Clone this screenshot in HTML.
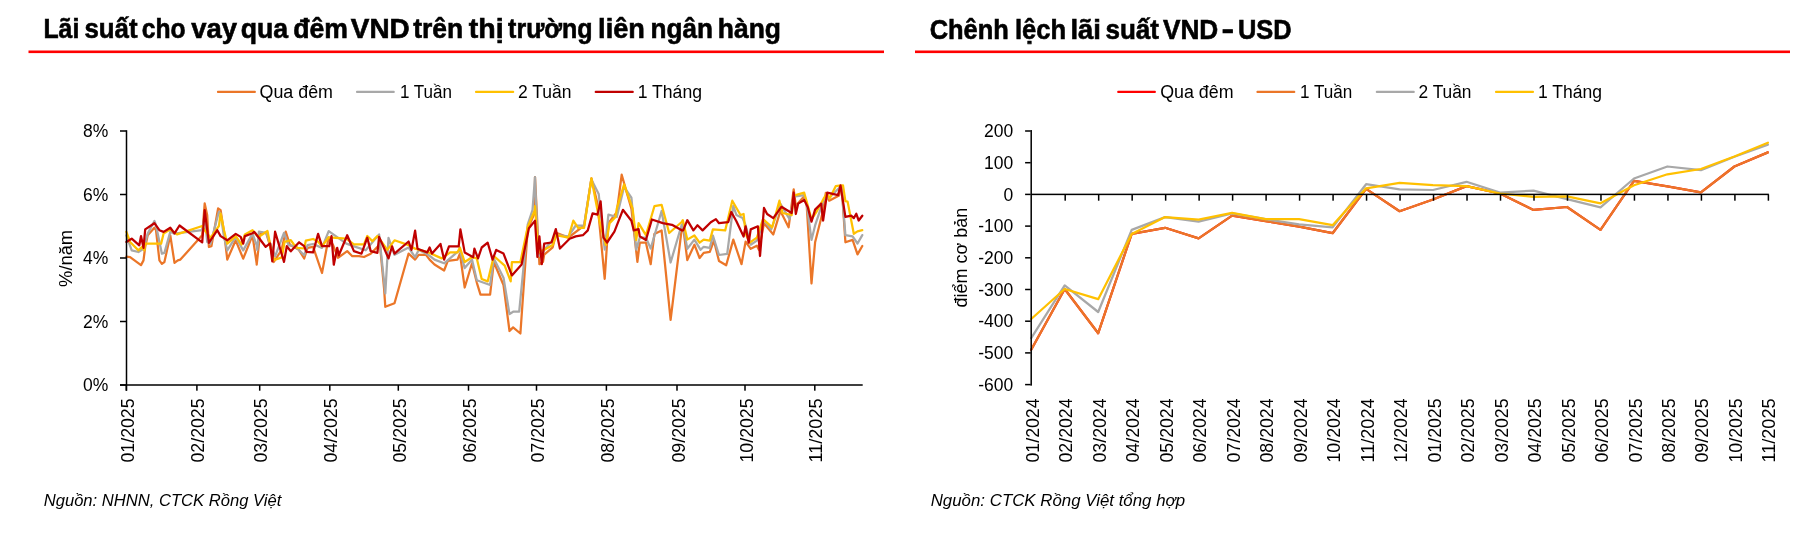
<!DOCTYPE html>
<html><head><meta charset="utf-8"><title>chart</title>
<style>
html,body{margin:0;padding:0;background:#fff;width:1815px;height:537px;overflow:hidden}
body{position:relative}
svg{will-change:transform}
svg text{font-family:"Liberation Sans", sans-serif;fill:#000}
</style></head><body>
<svg width="1815" height="537" viewBox="0 0 1815 537" style="position:absolute;left:0;top:0">
<text x="43.4" y="38.3" font-size="27.0" font-weight="bold" font-style="normal" text-anchor="start" textLength="35.9" lengthAdjust="spacingAndGlyphs" stroke="#000" stroke-width="0.60">Lãi</text>
<text x="84.4" y="38.3" font-size="27.0" font-weight="bold" font-style="normal" text-anchor="start" textLength="53.1" lengthAdjust="spacingAndGlyphs" stroke="#000" stroke-width="0.60">suất</text>
<text x="141.8" y="38.3" font-size="27.0" font-weight="bold" font-style="normal" text-anchor="start" textLength="43.9" lengthAdjust="spacingAndGlyphs" stroke="#000" stroke-width="0.60">cho</text>
<text x="191.2" y="38.3" font-size="27.0" font-weight="bold" font-style="normal" text-anchor="start" textLength="45.8" lengthAdjust="spacingAndGlyphs" stroke="#000" stroke-width="0.60">vay</text>
<text x="240.8" y="38.3" font-size="27.0" font-weight="bold" font-style="normal" text-anchor="start" textLength="47.4" lengthAdjust="spacingAndGlyphs" stroke="#000" stroke-width="0.60">qua</text>
<text x="293.2" y="38.3" font-size="27.0" font-weight="bold" font-style="normal" text-anchor="start" textLength="54.7" lengthAdjust="spacingAndGlyphs" stroke="#000" stroke-width="0.60">đêm</text>
<text x="350.8" y="38.3" font-size="27.0" font-weight="bold" font-style="normal" text-anchor="start" textLength="58.9" lengthAdjust="spacingAndGlyphs" stroke="#000" stroke-width="0.60">VND</text>
<text x="413.2" y="38.3" font-size="27.0" font-weight="bold" font-style="normal" text-anchor="start" textLength="50.0" lengthAdjust="spacingAndGlyphs" stroke="#000" stroke-width="0.60">trên</text>
<text x="468.7" y="38.3" font-size="27.0" font-weight="bold" font-style="normal" text-anchor="start" textLength="34.9" lengthAdjust="spacingAndGlyphs" stroke="#000" stroke-width="0.60">thị</text>
<text x="508.1" y="38.3" font-size="27.0" font-weight="bold" font-style="normal" text-anchor="start" textLength="84.5" lengthAdjust="spacingAndGlyphs" stroke="#000" stroke-width="0.60">trường</text>
<text x="598.1" y="38.3" font-size="27.0" font-weight="bold" font-style="normal" text-anchor="start" textLength="46.8" lengthAdjust="spacingAndGlyphs" stroke="#000" stroke-width="0.60">liên</text>
<text x="650.5" y="38.3" font-size="27.0" font-weight="bold" font-style="normal" text-anchor="start" textLength="62.4" lengthAdjust="spacingAndGlyphs" stroke="#000" stroke-width="0.60">ngân</text>
<text x="717.8" y="38.3" font-size="27.0" font-weight="bold" font-style="normal" text-anchor="start" textLength="63.2" lengthAdjust="spacingAndGlyphs" stroke="#000" stroke-width="0.60">hàng</text>
<text x="929.7" y="38.5" font-size="27.0" font-weight="bold" font-style="normal" text-anchor="start" textLength="79.2" lengthAdjust="spacingAndGlyphs" stroke="#000" stroke-width="0.60">Chênh</text>
<text x="1014.9" y="38.5" font-size="27.0" font-weight="bold" font-style="normal" text-anchor="start" textLength="51.2" lengthAdjust="spacingAndGlyphs" stroke="#000" stroke-width="0.60">lệch</text>
<text x="1070.4" y="38.5" font-size="27.0" font-weight="bold" font-style="normal" text-anchor="start" textLength="30.6" lengthAdjust="spacingAndGlyphs" stroke="#000" stroke-width="0.60">lãi</text>
<text x="1105.5" y="38.5" font-size="27.0" font-weight="bold" font-style="normal" text-anchor="start" textLength="53.5" lengthAdjust="spacingAndGlyphs" stroke="#000" stroke-width="0.60">suất</text>
<text x="1162.9" y="38.5" font-size="27.0" font-weight="bold" font-style="normal" text-anchor="start" textLength="55.4" lengthAdjust="spacingAndGlyphs" stroke="#000" stroke-width="0.60">VND</text>
<text x="1221.5" y="38.5" font-size="27.0" font-weight="bold" font-style="normal" text-anchor="start" textLength="12.5" lengthAdjust="spacingAndGlyphs" stroke="#000" stroke-width="0.60">-</text>
<text x="1237.9" y="38.5" font-size="27.0" font-weight="bold" font-style="normal" text-anchor="start" textLength="53.7" lengthAdjust="spacingAndGlyphs" stroke="#000" stroke-width="0.60">USD</text>
<rect x="28.5" y="50.5" width="855.5" height="2.6" fill="#FF0000"/>
<rect x="915" y="50.5" width="875" height="2.6" fill="#FF0000"/>
<line x1="217.9" y1="91.9" x2="254.9" y2="91.9" stroke="#EB7628" stroke-width="2.1" stroke-linecap="round"/>
<text x="259.5" y="97.9" font-size="18.0" font-weight="normal" font-style="normal" text-anchor="start" textLength="73.5" lengthAdjust="spacingAndGlyphs">Qua đêm</text>
<line x1="357.0" y1="91.9" x2="393.8" y2="91.9" stroke="#A8A8A8" stroke-width="2.1" stroke-linecap="round"/>
<text x="399.9" y="97.9" font-size="18.0" font-weight="normal" font-style="normal" text-anchor="start" textLength="52.1" lengthAdjust="spacingAndGlyphs">1 Tuần</text>
<line x1="476.0" y1="91.9" x2="513.2" y2="91.9" stroke="#FFC000" stroke-width="2.1" stroke-linecap="round"/>
<text x="518.0" y="97.9" font-size="18.0" font-weight="normal" font-style="normal" text-anchor="start" textLength="53.5" lengthAdjust="spacingAndGlyphs">2 Tuần</text>
<line x1="595.7" y1="91.9" x2="632.8" y2="91.9" stroke="#C00000" stroke-width="2.1" stroke-linecap="round"/>
<text x="637.7" y="97.9" font-size="18.0" font-weight="normal" font-style="normal" text-anchor="start" textLength="64.3" lengthAdjust="spacingAndGlyphs">1 Tháng</text>
<line x1="1118.2" y1="91.9" x2="1154.9" y2="91.9" stroke="#FF0000" stroke-width="2.1" stroke-linecap="round"/>
<text x="1160.2" y="97.9" font-size="18.0" font-weight="normal" font-style="normal" text-anchor="start" textLength="73.3" lengthAdjust="spacingAndGlyphs">Qua đêm</text>
<line x1="1257.4" y1="91.9" x2="1294.3" y2="91.9" stroke="#EB7628" stroke-width="2.1" stroke-linecap="round"/>
<text x="1300.0" y="97.9" font-size="18.0" font-weight="normal" font-style="normal" text-anchor="start" textLength="52.3" lengthAdjust="spacingAndGlyphs">1 Tuần</text>
<line x1="1376.8" y1="91.9" x2="1413.8" y2="91.9" stroke="#A8A8A8" stroke-width="2.1" stroke-linecap="round"/>
<text x="1418.5" y="97.9" font-size="18.0" font-weight="normal" font-style="normal" text-anchor="start" textLength="53.0" lengthAdjust="spacingAndGlyphs">2 Tuần</text>
<line x1="1496.0" y1="91.9" x2="1533.0" y2="91.9" stroke="#FFC000" stroke-width="2.1" stroke-linecap="round"/>
<text x="1538.0" y="97.9" font-size="18.0" font-weight="normal" font-style="normal" text-anchor="start" textLength="64.0" lengthAdjust="spacingAndGlyphs">1 Tháng</text>
<polyline points="126.4,256.7 130.1,257.1 141.0,265.1 143.5,260.4 145.2,247.0 147.7,235.3 154.4,227.7 156.0,230.2 159.4,260.4 161.9,263.8 164.4,262.1 170.3,235.3 174.5,262.9 177.8,260.4 180.4,259.6 202.2,235.3 204.7,203.4 207.2,215.2 208.9,247.0 211.4,246.2 218.1,208.4 220.6,210.1 224.0,231.9 227.3,259.6 235.7,240.3 243.2,258.7 252.5,235.3 256.7,263.8 256.7,264.7 260.0,234.0 266.0,232.5 269.5,244.0 273.8,262.0 281.5,250.0 285.7,231.7 290.0,245.0 298.6,249.5 304.2,258.5 307.5,247.9 313.1,246.8 322.0,273.0 328.7,237.3 333.0,245.0 338.0,257.8 347.2,251.1 352.3,256.2 359.0,256.2 364.0,257.0 370.7,253.7 379.9,244.4 384.1,288.9 385.3,306.8 394.5,303.2 408.6,253.6 415.1,259.6 418.7,254.8 426.0,254.8 429.6,259.6 434.5,264.5 444.1,270.5 447.8,260.8 457.5,259.6 459.9,253.6 464.7,287.5 472.0,263.3 476.8,282.6 480.5,294.7 490.1,294.7 493.8,262.0 503.5,285.0 509.5,331.0 513.1,327.4 520.4,333.5 527.7,229.4 534.9,212.4 535.0,177.1 539.4,264.2 543.0,261.8 544.2,254.6 552.7,247.3 556.3,232.8 568.4,237.6 584.1,225.5 591.4,178.3 597.5,203.7 604.7,278.8 608.4,223.1 616.8,212.2 621.7,174.7 626.5,191.6 631.4,208.6 637.4,261.8 639.8,242.5 645.9,242.5 650.7,264.2 654.4,234.0 661.6,230.4 670.6,319.9 681.7,229.0 682.8,224.2 687.3,260.1 694.4,244.7 699.6,258.0 703.7,252.9 709.8,251.9 713.9,240.6 719.0,261.1 726.2,265.2 733.3,239.6 741.5,264.2 745.6,241.6 750.7,248.8 756.9,245.7 758.9,249.8 764.0,223.2 773.3,234.5 780.4,210.9 788.6,227.3 793.7,189.4 795.8,205.8 804.2,196.3 806.6,203.6 811.5,283.5 815.1,242.3 823.6,208.4 825.8,192.9 829.2,200.7 839.1,195.6 840.8,186.2 841.7,186.6 845.4,242.3 852.6,239.9 857.5,254.4 862.3,246.0" fill="none" stroke="#EB7628" stroke-width="2.25" stroke-linejoin="round" stroke-linecap="round"/>
<polyline points="126.4,235.3 131.7,250.4 138.4,252.0 143.5,248.7 147.7,233.6 154.4,221.0 156.0,225.2 161.9,253.7 164.4,252.9 170.3,231.9 174.5,233.6 202.2,230.2 204.7,215.2 207.2,242.0 210.5,243.7 218.9,211.8 220.6,213.5 224.0,236.9 227.3,250.4 235.7,236.9 243.2,250.4 252.5,233.6 256.7,245.3 257.3,250.0 258.9,231.7 266.2,232.8 275.1,256.3 284.0,232.8 288.5,245.1 295.2,246.2 304.2,255.2 307.5,245.1 313.1,244.0 322.0,247.9 328.7,231.1 346.4,243.6 355.6,246.9 365.7,250.3 379.1,234.4 385.3,293.5 388.5,237.8 394.5,254.8 408.6,247.5 415.1,257.2 418.7,249.9 428.4,254.8 434.5,259.6 444.1,263.3 459.9,249.9 464.7,268.1 472.0,259.6 476.8,280.2 490.1,285.0 493.8,258.4 503.5,277.8 509.5,314.1 513.1,311.7 519.2,311.7 527.7,224.5 532.5,210.0 535.0,177.1 538.2,254.6 541.8,257.0 544.2,249.7 552.7,240.0 556.3,235.2 568.4,236.4 575.7,225.5 584.1,225.5 591.4,179.5 598.7,194.0 604.7,249.7 608.4,214.6 616.8,217.0 624.1,186.8 631.4,197.7 636.2,249.7 639.8,237.6 645.9,237.6 650.7,248.5 661.6,211.0 670.6,262.5 681.7,224.8 682.8,224.2 687.3,248.8 694.4,239.6 700.6,249.8 703.7,246.8 709.8,247.8 712.9,235.5 719.0,255.0 727.2,253.9 733.3,205.8 736.4,215.0 742.6,218.1 745.6,225.3 750.7,244.7 756.9,240.6 764.0,220.2 771.2,229.4 780.4,203.8 789.6,219.1 793.7,196.6 804.2,195.1 806.6,203.6 811.5,239.9 815.1,225.4 823.6,200.0 830.8,196.3 839.3,187.8 841.7,187.8 845.4,235.1 852.6,236.3 857.5,243.5 862.3,235.1" fill="none" stroke="#A8A8A8" stroke-width="2.25" stroke-linejoin="round" stroke-linecap="round"/>
<polyline points="126.4,231.9 130.1,242.0 138.4,250.4 141.8,247.0 144.3,250.4 145.2,243.7 161.1,243.7 163.6,233.6 170.3,229.4 177.0,234.4 202.2,226.0 204.7,230.2 210.5,237.8 218.9,226.0 220.6,213.5 224.0,230.2 227.3,243.7 235.7,236.1 241.6,244.5 244.9,234.4 252.5,230.2 257.5,236.0 260.0,236.0 267.5,231.0 272.0,254.0 274.5,260.0 281.8,257.4 284.6,241.8 290.8,240.1 293.5,244.0 297.5,247.9 304.2,248.5 305.8,240.6 313.1,239.0 317.6,241.2 322.0,246.2 328.7,237.3 346.4,238.6 353.9,244.4 364.0,244.4 367.3,236.0 372.4,241.1 377.4,236.0 382.4,242.8 387.3,249.9 394.5,240.3 408.6,245.1 415.1,248.7 428.4,252.4 441.7,258.4 450.2,252.4 457.5,252.4 459.9,247.5 464.7,262.0 472.0,257.2 476.8,258.4 481.7,279.0 487.7,281.4 493.8,256.0 504.7,265.7 510.7,281.4 511.9,262.0 520.4,262.0 527.7,226.9 534.9,210.0 535.0,206.2 538.2,252.1 544.2,249.7 552.7,244.9 556.3,235.2 568.4,237.6 573.3,220.7 578.1,227.9 584.1,227.9 591.4,178.3 599.9,223.1 605.9,244.9 609.6,223.1 615.6,217.0 616.8,208.6 624.1,184.4 632.6,208.6 636.2,240.0 638.6,223.1 645.9,235.2 654.4,206.2 661.6,204.9 669.2,233.0 681.7,222.0 682.8,220.2 687.3,239.6 694.4,235.5 699.6,242.7 703.7,239.6 709.8,240.6 712.9,229.4 725.2,230.4 732.3,200.7 740.5,215.0 743.6,214.0 745.6,233.5 749.7,242.7 756.9,237.6 763.0,219.1 772.2,227.3 779.4,200.7 782.5,213.0 791.7,215.0 793.7,195.6 804.2,192.7 806.6,201.2 811.5,219.3 816.3,212.1 823.6,198.7 827.0,193.4 829.6,198.5 835.7,186.2 839.3,185.7 843.0,185.4 845.4,201.2 847.6,201.6 853.8,233.8 857.5,231.4 862.3,230.2" fill="none" stroke="#FFC000" stroke-width="2.25" stroke-linejoin="round" stroke-linecap="round"/>
<polyline points="126.4,242.0 131.7,238.6 139.3,245.3 141.0,236.1 143.5,247.8 145.2,229.4 154.4,223.2 159.4,230.2 163.6,231.9 170.3,227.7 174.5,233.3 179.5,225.5 202.2,242.3 204.7,210.1 208.9,242.8 217.3,230.2 220.6,236.1 227.3,240.3 235.7,233.9 240.7,236.9 243.2,243.7 244.9,236.1 252.5,233.3 254.1,231.9 255.0,232.8 265.6,246.8 270.1,243.4 272.3,261.3 275.1,231.7 284.0,261.9 286.8,246.2 290.8,251.3 299.1,242.3 304.2,246.2 306.4,251.8 313.1,252.4 318.1,233.9 322.0,246.2 329.3,246.2 331.5,236.2 333.8,264.7 337.2,247.8 338.8,255.3 347.2,235.2 353.9,251.1 361.5,253.7 367.3,237.7 370.7,251.1 377.4,252.8 379.1,236.9 388.5,258.4 392.1,246.3 394.5,253.6 408.6,241.5 411.5,249.9 415.1,230.6 417.5,248.7 427.2,252.4 429.6,247.5 432.0,253.6 440.5,243.9 444.1,259.6 449.0,246.3 458.7,246.3 460.4,229.4 464.7,252.4 473.2,257.2 474.4,248.7 478.0,258.4 481.7,247.5 487.7,242.7 492.6,259.6 496.2,249.9 503.5,253.6 511.9,275.4 521.6,264.5 528.9,228.2 534.9,220.9 535.0,220.7 537.4,257.0 539.4,236.4 541.8,264.2 544.2,243.7 551.5,242.5 555.8,229.1 559.9,248.5 569.6,238.8 575.7,236.4 582.9,235.2 587.8,230.4 592.6,213.4 597.5,214.6 600.6,201.3 603.5,237.6 607.1,242.5 614.4,231.6 622.9,209.8 631.4,220.7 633.8,230.4 638.6,229.1 639.8,236.4 645.9,240.0 651.9,219.5 662.8,223.1 672.0,224.8 681.7,230.3 683.2,230.4 687.3,220.2 693.4,230.4 697.5,225.3 702.6,230.4 710.8,222.2 715.9,219.1 719.0,223.2 728.2,222.2 731.3,212.0 736.4,221.2 743.6,236.5 745.6,226.3 748.7,242.7 750.7,229.4 757.9,226.3 760.0,256.0 764.0,207.9 767.1,214.0 773.3,218.1 781.4,206.8 791.7,213.0 793.7,192.5 795.8,214.0 798.2,203.6 804.2,200.0 807.8,207.2 811.5,221.7 815.1,209.6 821.2,203.6 823.1,220.5 827.2,192.7 838.1,195.1 840.5,185.4 845.4,216.9 851.4,215.7 853.8,218.1 856.3,213.8 858.7,220.5 862.3,215.7" fill="none" stroke="#C00000" stroke-width="2.25" stroke-linejoin="round" stroke-linecap="round"/>
<rect x="125.75" y="130.25" width="1.5" height="260.5" fill="#000"/>
<rect x="120" y="384.25" width="742.7" height="1.5" fill="#000"/>
<rect x="120" y="384.25" width="6.5" height="1.5" fill="#000"/>
<text x="108.3" y="391.2" font-size="17.5" font-weight="normal" font-style="normal" text-anchor="end">0%</text>
<rect x="120" y="320.75" width="6.5" height="1.5" fill="#000"/>
<text x="108.3" y="327.7" font-size="17.5" font-weight="normal" font-style="normal" text-anchor="end">2%</text>
<rect x="120" y="257.25" width="6.5" height="1.5" fill="#000"/>
<text x="108.3" y="264.2" font-size="17.5" font-weight="normal" font-style="normal" text-anchor="end">4%</text>
<rect x="120" y="193.75" width="6.5" height="1.5" fill="#000"/>
<text x="108.3" y="200.7" font-size="17.5" font-weight="normal" font-style="normal" text-anchor="end">6%</text>
<rect x="120" y="130.25" width="6.5" height="1.5" fill="#000"/>
<text x="108.3" y="137.2" font-size="17.5" font-weight="normal" font-style="normal" text-anchor="end">8%</text>
<rect x="125.55" y="385" width="1.5" height="5.7" fill="#000"/>
<text x="0.0" y="0.0" font-size="17.5" font-weight="normal" font-style="normal" text-anchor="end" textLength="64.0" lengthAdjust="spacingAndGlyphs" transform="translate(133.8,398.5) rotate(-90)">01/2025</text>
<rect x="196.15" y="385" width="1.5" height="5.7" fill="#000"/>
<text x="0.0" y="0.0" font-size="17.5" font-weight="normal" font-style="normal" text-anchor="end" textLength="64.0" lengthAdjust="spacingAndGlyphs" transform="translate(204.4,398.5) rotate(-90)">02/2025</text>
<rect x="258.95" y="385" width="1.5" height="5.7" fill="#000"/>
<text x="0.0" y="0.0" font-size="17.5" font-weight="normal" font-style="normal" text-anchor="end" textLength="64.0" lengthAdjust="spacingAndGlyphs" transform="translate(267.2,398.5) rotate(-90)">03/2025</text>
<rect x="329.05" y="385" width="1.5" height="5.7" fill="#000"/>
<text x="0.0" y="0.0" font-size="17.5" font-weight="normal" font-style="normal" text-anchor="end" textLength="64.0" lengthAdjust="spacingAndGlyphs" transform="translate(337.3,398.5) rotate(-90)">04/2025</text>
<rect x="397.55" y="385" width="1.5" height="5.7" fill="#000"/>
<text x="0.0" y="0.0" font-size="17.5" font-weight="normal" font-style="normal" text-anchor="end" textLength="64.0" lengthAdjust="spacingAndGlyphs" transform="translate(405.8,398.5) rotate(-90)">05/2025</text>
<rect x="467.75" y="385" width="1.5" height="5.7" fill="#000"/>
<text x="0.0" y="0.0" font-size="17.5" font-weight="normal" font-style="normal" text-anchor="end" textLength="64.0" lengthAdjust="spacingAndGlyphs" transform="translate(476.0,398.5) rotate(-90)">06/2025</text>
<rect x="535.75" y="385" width="1.5" height="5.7" fill="#000"/>
<text x="0.0" y="0.0" font-size="17.5" font-weight="normal" font-style="normal" text-anchor="end" textLength="64.0" lengthAdjust="spacingAndGlyphs" transform="translate(544.0,398.5) rotate(-90)">07/2025</text>
<rect x="605.65" y="385" width="1.5" height="5.7" fill="#000"/>
<text x="0.0" y="0.0" font-size="17.5" font-weight="normal" font-style="normal" text-anchor="end" textLength="64.0" lengthAdjust="spacingAndGlyphs" transform="translate(613.9,398.5) rotate(-90)">08/2025</text>
<rect x="676.25" y="385" width="1.5" height="5.7" fill="#000"/>
<text x="0.0" y="0.0" font-size="17.5" font-weight="normal" font-style="normal" text-anchor="end" textLength="64.0" lengthAdjust="spacingAndGlyphs" transform="translate(684.5,398.5) rotate(-90)">09/2025</text>
<rect x="744.25" y="385" width="1.5" height="5.7" fill="#000"/>
<text x="0.0" y="0.0" font-size="17.5" font-weight="normal" font-style="normal" text-anchor="end" textLength="64.0" lengthAdjust="spacingAndGlyphs" transform="translate(752.5,398.5) rotate(-90)">10/2025</text>
<rect x="814.05" y="385" width="1.5" height="5.7" fill="#000"/>
<text x="0.0" y="0.0" font-size="17.5" font-weight="normal" font-style="normal" text-anchor="end" textLength="64.0" lengthAdjust="spacingAndGlyphs" transform="translate(822.3,398.5) rotate(-90)">11/2025</text>
<text x="0.0" y="0.0" font-size="18.0" font-weight="normal" font-style="normal" text-anchor="middle" textLength="57.0" lengthAdjust="spacingAndGlyphs" transform="translate(71.5,258.4) rotate(-90)">%/năm</text>
<polyline points="1031.2,349.8 1064.7,289.0 1098.2,333.2 1131.7,233.8 1165.1,227.8 1198.6,238.4 1232.1,215.6 1265.6,221.1 1299.1,226.7 1332.6,233.2 1366.1,188.9 1399.6,211.2 1433.0,199.5 1466.5,186.1 1500.0,193.5 1533.5,209.9 1567.0,207.0 1600.5,229.9 1634.0,180.8 1667.4,186.3 1700.9,192.3 1734.4,166.5 1767.9,152.4" fill="none" stroke="#FF0000" stroke-width="2.25" stroke-linejoin="round" stroke-linecap="round"/>
<polyline points="1031.2,349.8 1064.7,289.0 1098.2,333.2 1131.7,233.8 1165.1,227.8 1198.6,238.4 1232.1,215.6 1265.6,221.1 1299.1,226.7 1332.6,233.2 1366.1,188.9 1399.6,211.2 1433.0,199.5 1466.5,186.1 1500.0,193.5 1533.5,209.9 1567.0,207.0 1600.5,229.9 1634.0,180.8 1667.4,186.3 1700.9,192.3 1734.4,166.5 1767.9,152.4" fill="none" stroke="#EB7628" stroke-width="2.25" stroke-linejoin="round" stroke-linecap="round"/>
<polyline points="1031.2,338.1 1064.7,285.4 1098.2,312.0 1131.7,229.9 1165.1,217.1 1198.6,221.7 1232.1,213.4 1265.6,219.2 1299.1,224.3 1332.6,227.4 1366.1,184.2 1399.6,189.4 1433.0,190.0 1466.5,181.8 1500.0,192.6 1533.5,190.7 1567.0,199.1 1600.5,207.3 1634.0,178.5 1667.4,166.5 1700.9,170.2 1734.4,156.8 1767.9,144.6" fill="none" stroke="#A8A8A8" stroke-width="2.25" stroke-linejoin="round" stroke-linecap="round"/>
<polyline points="1031.2,319.0 1064.7,289.0 1098.2,299.2 1131.7,234.0 1165.1,217.1 1198.6,219.6 1232.1,212.8 1265.6,219.2 1299.1,219.2 1332.6,225.2 1366.1,188.3 1399.6,182.9 1433.0,185.1 1466.5,186.1 1500.0,193.5 1533.5,196.9 1567.0,196.3 1600.5,203.3 1634.0,185.2 1667.4,174.3 1700.9,169.0 1734.4,156.5 1767.9,142.7" fill="none" stroke="#FFC000" stroke-width="2.25" stroke-linejoin="round" stroke-linecap="round"/>
<rect x="1030.45" y="130.05" width="1.5" height="255.6" fill="#000"/>
<rect x="1031.20" y="193.65" width="737.65" height="1.5" fill="#000"/>
<rect x="1025.1" y="130.25" width="5.6" height="1.5" fill="#000"/>
<text x="1013.3" y="137.2" font-size="17.5" font-weight="normal" font-style="normal" text-anchor="end">200</text>
<rect x="1025.1" y="161.95" width="5.6" height="1.5" fill="#000"/>
<text x="1013.3" y="168.9" font-size="17.5" font-weight="normal" font-style="normal" text-anchor="end">100</text>
<rect x="1025.1" y="193.65" width="5.6" height="1.5" fill="#000"/>
<text x="1013.3" y="200.6" font-size="17.5" font-weight="normal" font-style="normal" text-anchor="end">0</text>
<rect x="1025.1" y="225.35" width="5.6" height="1.5" fill="#000"/>
<text x="1013.3" y="232.3" font-size="17.5" font-weight="normal" font-style="normal" text-anchor="end">-100</text>
<rect x="1025.1" y="257.05" width="5.6" height="1.5" fill="#000"/>
<text x="1013.3" y="264.0" font-size="17.5" font-weight="normal" font-style="normal" text-anchor="end">-200</text>
<rect x="1025.1" y="288.75" width="5.6" height="1.5" fill="#000"/>
<text x="1013.3" y="295.7" font-size="17.5" font-weight="normal" font-style="normal" text-anchor="end">-300</text>
<rect x="1025.1" y="320.45" width="5.6" height="1.5" fill="#000"/>
<text x="1013.3" y="327.4" font-size="17.5" font-weight="normal" font-style="normal" text-anchor="end">-400</text>
<rect x="1025.1" y="352.15" width="5.6" height="1.5" fill="#000"/>
<text x="1013.3" y="359.1" font-size="17.5" font-weight="normal" font-style="normal" text-anchor="end">-500</text>
<rect x="1025.1" y="383.85" width="5.6" height="1.5" fill="#000"/>
<text x="1013.3" y="390.8" font-size="17.5" font-weight="normal" font-style="normal" text-anchor="end">-600</text>
<text x="0.0" y="0.0" font-size="17.5" font-weight="normal" font-style="normal" text-anchor="end" textLength="64.0" lengthAdjust="spacingAndGlyphs" transform="translate(1038.7,398.5) rotate(-90)">01/2024</text>
<rect x="1064.44" y="194.40" width="1.5" height="6.3" fill="#000"/>
<text x="0.0" y="0.0" font-size="17.5" font-weight="normal" font-style="normal" text-anchor="end" textLength="64.0" lengthAdjust="spacingAndGlyphs" transform="translate(1072.2,398.5) rotate(-90)">02/2024</text>
<rect x="1097.92" y="194.40" width="1.5" height="6.3" fill="#000"/>
<text x="0.0" y="0.0" font-size="17.5" font-weight="normal" font-style="normal" text-anchor="end" textLength="64.0" lengthAdjust="spacingAndGlyphs" transform="translate(1105.7,398.5) rotate(-90)">03/2024</text>
<rect x="1131.41" y="194.40" width="1.5" height="6.3" fill="#000"/>
<text x="0.0" y="0.0" font-size="17.5" font-weight="normal" font-style="normal" text-anchor="end" textLength="64.0" lengthAdjust="spacingAndGlyphs" transform="translate(1139.2,398.5) rotate(-90)">04/2024</text>
<rect x="1164.90" y="194.40" width="1.5" height="6.3" fill="#000"/>
<text x="0.0" y="0.0" font-size="17.5" font-weight="normal" font-style="normal" text-anchor="end" textLength="64.0" lengthAdjust="spacingAndGlyphs" transform="translate(1172.6,398.5) rotate(-90)">05/2024</text>
<rect x="1198.38" y="194.40" width="1.5" height="6.3" fill="#000"/>
<text x="0.0" y="0.0" font-size="17.5" font-weight="normal" font-style="normal" text-anchor="end" textLength="64.0" lengthAdjust="spacingAndGlyphs" transform="translate(1206.1,398.5) rotate(-90)">06/2024</text>
<rect x="1231.87" y="194.40" width="1.5" height="6.3" fill="#000"/>
<text x="0.0" y="0.0" font-size="17.5" font-weight="normal" font-style="normal" text-anchor="end" textLength="64.0" lengthAdjust="spacingAndGlyphs" transform="translate(1239.6,398.5) rotate(-90)">07/2024</text>
<rect x="1265.35" y="194.40" width="1.5" height="6.3" fill="#000"/>
<text x="0.0" y="0.0" font-size="17.5" font-weight="normal" font-style="normal" text-anchor="end" textLength="64.0" lengthAdjust="spacingAndGlyphs" transform="translate(1273.1,398.5) rotate(-90)">08/2024</text>
<rect x="1298.84" y="194.40" width="1.5" height="6.3" fill="#000"/>
<text x="0.0" y="0.0" font-size="17.5" font-weight="normal" font-style="normal" text-anchor="end" textLength="64.0" lengthAdjust="spacingAndGlyphs" transform="translate(1306.6,398.5) rotate(-90)">09/2024</text>
<rect x="1332.33" y="194.40" width="1.5" height="6.3" fill="#000"/>
<text x="0.0" y="0.0" font-size="17.5" font-weight="normal" font-style="normal" text-anchor="end" textLength="64.0" lengthAdjust="spacingAndGlyphs" transform="translate(1340.1,398.5) rotate(-90)">10/2024</text>
<rect x="1365.81" y="194.40" width="1.5" height="6.3" fill="#000"/>
<text x="0.0" y="0.0" font-size="17.5" font-weight="normal" font-style="normal" text-anchor="end" textLength="64.0" lengthAdjust="spacingAndGlyphs" transform="translate(1373.6,398.5) rotate(-90)">11/2024</text>
<rect x="1399.30" y="194.40" width="1.5" height="6.3" fill="#000"/>
<text x="0.0" y="0.0" font-size="17.5" font-weight="normal" font-style="normal" text-anchor="end" textLength="64.0" lengthAdjust="spacingAndGlyphs" transform="translate(1407.1,398.5) rotate(-90)">12/2024</text>
<rect x="1432.79" y="194.40" width="1.5" height="6.3" fill="#000"/>
<text x="0.0" y="0.0" font-size="17.5" font-weight="normal" font-style="normal" text-anchor="end" textLength="64.0" lengthAdjust="spacingAndGlyphs" transform="translate(1440.5,398.5) rotate(-90)">01/2025</text>
<rect x="1466.27" y="194.40" width="1.5" height="6.3" fill="#000"/>
<text x="0.0" y="0.0" font-size="17.5" font-weight="normal" font-style="normal" text-anchor="end" textLength="64.0" lengthAdjust="spacingAndGlyphs" transform="translate(1474.0,398.5) rotate(-90)">02/2025</text>
<rect x="1499.76" y="194.40" width="1.5" height="6.3" fill="#000"/>
<text x="0.0" y="0.0" font-size="17.5" font-weight="normal" font-style="normal" text-anchor="end" textLength="64.0" lengthAdjust="spacingAndGlyphs" transform="translate(1507.5,398.5) rotate(-90)">03/2025</text>
<rect x="1533.25" y="194.40" width="1.5" height="6.3" fill="#000"/>
<text x="0.0" y="0.0" font-size="17.5" font-weight="normal" font-style="normal" text-anchor="end" textLength="64.0" lengthAdjust="spacingAndGlyphs" transform="translate(1541.0,398.5) rotate(-90)">04/2025</text>
<rect x="1566.73" y="194.40" width="1.5" height="6.3" fill="#000"/>
<text x="0.0" y="0.0" font-size="17.5" font-weight="normal" font-style="normal" text-anchor="end" textLength="64.0" lengthAdjust="spacingAndGlyphs" transform="translate(1574.5,398.5) rotate(-90)">05/2025</text>
<rect x="1600.22" y="194.40" width="1.5" height="6.3" fill="#000"/>
<text x="0.0" y="0.0" font-size="17.5" font-weight="normal" font-style="normal" text-anchor="end" textLength="64.0" lengthAdjust="spacingAndGlyphs" transform="translate(1608.0,398.5) rotate(-90)">06/2025</text>
<rect x="1633.70" y="194.40" width="1.5" height="6.3" fill="#000"/>
<text x="0.0" y="0.0" font-size="17.5" font-weight="normal" font-style="normal" text-anchor="end" textLength="64.0" lengthAdjust="spacingAndGlyphs" transform="translate(1641.5,398.5) rotate(-90)">07/2025</text>
<rect x="1667.19" y="194.40" width="1.5" height="6.3" fill="#000"/>
<text x="0.0" y="0.0" font-size="17.5" font-weight="normal" font-style="normal" text-anchor="end" textLength="64.0" lengthAdjust="spacingAndGlyphs" transform="translate(1674.9,398.5) rotate(-90)">08/2025</text>
<rect x="1700.68" y="194.40" width="1.5" height="6.3" fill="#000"/>
<text x="0.0" y="0.0" font-size="17.5" font-weight="normal" font-style="normal" text-anchor="end" textLength="64.0" lengthAdjust="spacingAndGlyphs" transform="translate(1708.4,398.5) rotate(-90)">09/2025</text>
<rect x="1734.16" y="194.40" width="1.5" height="6.3" fill="#000"/>
<text x="0.0" y="0.0" font-size="17.5" font-weight="normal" font-style="normal" text-anchor="end" textLength="64.0" lengthAdjust="spacingAndGlyphs" transform="translate(1741.9,398.5) rotate(-90)">10/2025</text>
<rect x="1767.65" y="194.40" width="1.5" height="6.3" fill="#000"/>
<text x="0.0" y="0.0" font-size="17.5" font-weight="normal" font-style="normal" text-anchor="end" textLength="64.0" lengthAdjust="spacingAndGlyphs" transform="translate(1775.4,398.5) rotate(-90)">11/2025</text>
<text x="0.0" y="0.0" font-size="18.0" font-weight="normal" font-style="normal" text-anchor="middle" transform="translate(966.5,257.7) rotate(-90)">điểm cơ bản</text>
<text x="43.7" y="506.0" font-size="17.0" font-weight="normal" font-style="italic" text-anchor="start" textLength="237.7" lengthAdjust="spacingAndGlyphs">Nguồn: NHNN, CTCK Rồng Việt</text>
<text x="930.7" y="505.6" font-size="17.0" font-weight="normal" font-style="italic" text-anchor="start" textLength="254.4" lengthAdjust="spacingAndGlyphs">Nguồn: CTCK Rồng Việt tổng hợp</text>
</svg>
</body></html>
